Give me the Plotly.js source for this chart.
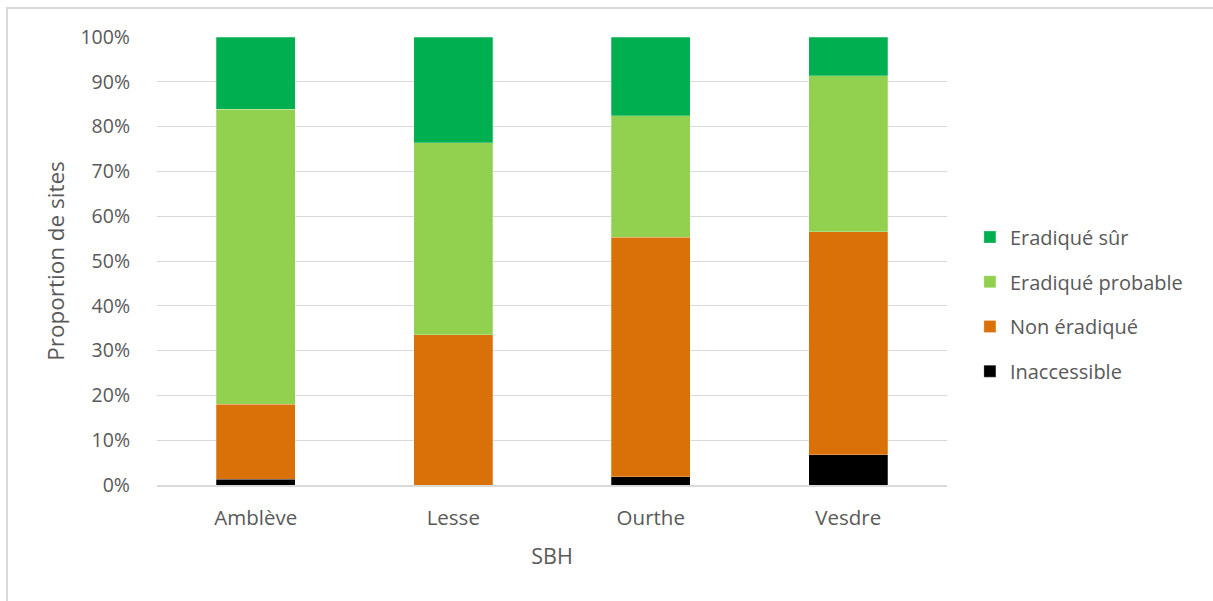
<!DOCTYPE html>
<html>
<head>
<meta charset="utf-8">
<script src="https://cdn.plot.ly/plotly-3.0.1.min.js"></script>
<style>
  html, body { margin: 0; padding: 0; background: #fff; overflow: hidden; }
  #chart { width: 1213px; height: 601px; position: absolute; left: 0; top: 0; }
  #frame { position: absolute; left: 6px; top: 7px; width: 1400px; height: 800px; border: 2px solid #d9d9d9; pointer-events: none; }
</style>
</head>
<body>
<div id="chart"></div>
<div id="frame"></div>
<script>
const categories = ["Amblève", "Lesse", "Ourthe", "Vesdre"];
const inaccessible = [1.3, 0, 1.8, 6.7];
const nonEradique = [16.7, 33.5, 53.5, 49.8];
const eradiqueProbable = [65.9, 42.9, 27.1, 34.8];
const eradiqueSur = [16.1, 23.6, 17.6, 8.7];
const seriesNames = ["Inaccessible", "Non éradiqué", "Eradiqué probable", "Eradiqué sûr"];
const seriesColors = ["#000000", "#D97008", "#92D050", "#00B050"];
const yTickVals = [0, 10, 20, 30, 40, 50, 60, 70, 80, 90, 100];
const yTickText = ["0%", "10%", "20%", "30%", "40%", "50%", "60%", "70%", "80%", "90%", "100%"];

const seriesValues = [inaccessible, nonEradique, eradiqueProbable, eradiqueSur];
const traces = seriesValues.map((vals, i) => ({
  type: "bar",
  name: seriesNames[i],
  x: categories,
  y: vals,
  legendgroup: "g" + i,
  legendrank: seriesValues.length - i,
  marker: { color: seriesColors[i], line: { color: "rgba(255,255,255,0.5)", width: 0.5 } },
  hoverinfo: "x+y+name"
}));

const base = { family: "Open Sans, sans-serif", color: "#595959" };
const f = (s) => Object.assign({ size: s }, base);

const layout = {
  width: 1213,
  height: 601,
  margin: { l: 157, r: 265.5, t: 37, b: 115.5 },
  barmode: "stack",
  bargap: 0.6,
  paper_bgcolor: "rgba(0,0,0,0)",
  plot_bgcolor: "#ffffff",
  font: f(19),
  showlegend: true,
  legend: {
    x: 1.029, xanchor: "left",
    y: 0.597, yanchor: "top",
    traceorder: "grouped",
    tracegroupgap: 15.7,
    font: f(20),
    bgcolor: "rgba(0,0,0,0)"
  },
  xaxis: {
    type: "category",
    showgrid: false,
    showline: true,
    linecolor: "#d9d9d9",
    linewidth: 1.5,
    ticks: "",
    ticklabelstandoff: 14,
    tickfont: f(20.5),
    title: { text: "SBH", font: f(21.5), standoff: 19 }
  },
  yaxis: {
    range: [0, 100],
    tickvals: yTickVals,
    ticktext: yTickText,
    showgrid: true,
    gridcolor: "#d9d9d9",
    gridwidth: 1.3,
    zeroline: false,
    showline: false,
    ticks: "",
    ticklabelstandoff: 26,
    tickfont: f(19.5),
    title: { text: "Proportion de sites", font: f(22.5), standoff: 9 }
  }
};

Plotly.newPlot("chart", traces, layout, { displayModeBar: false });
</script>
</body>
</html>
